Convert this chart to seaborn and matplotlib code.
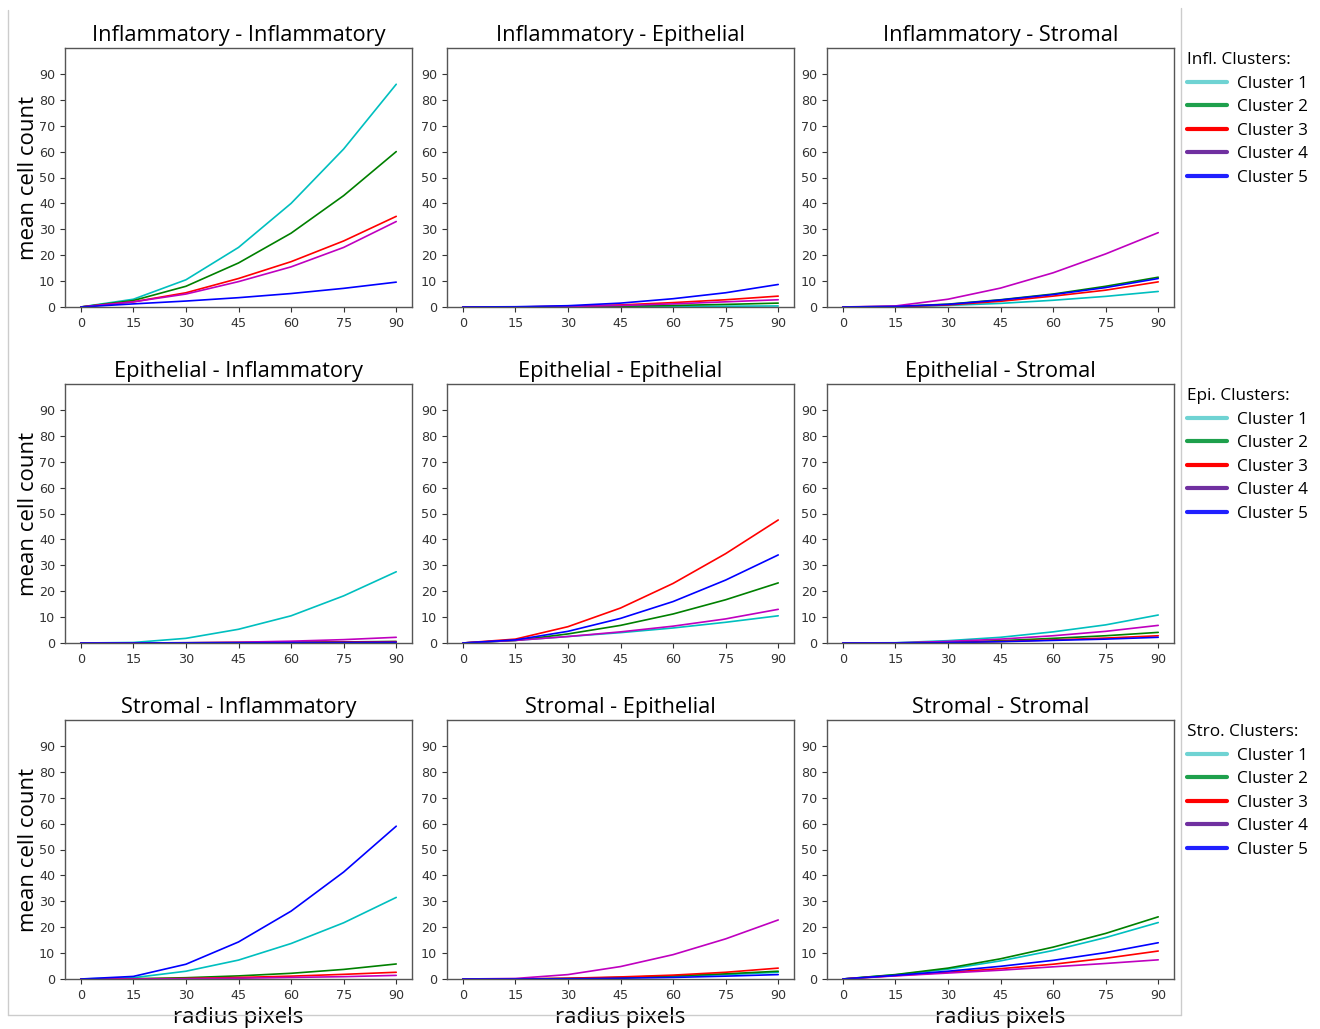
import numpy as np
import pandas as pd
import matplotlib
matplotlib.use("Agg")
import matplotlib.pyplot as plt
from matplotlib.lines import Line2D
import seaborn as sns

radius = [0, 15, 30, 45, 60, 75, 90]
cell_types = ["Inflammatory", "Epithelial", "Stromal"]
clusters = ["Cluster 1", "Cluster 2", "Cluster 3", "Cluster 4", "Cluster 5"]
line_colors = ["c", "g", "r", "m", "b"]
legend_colors = ["#6fd3d3", "#1ea04c", "#ff0000", "#7030a0", "#2020ff"]
legend_titles = ["Infl. Clusters:", "Epi. Clusters:", "Stro. Clusters:"]

# mean cell counts per panel (row = source type, col = target type), one list per cluster
infl_infl = [
    [0, 3.0, 10.5, 23.0, 40.0, 61.0, 86.0],
    [0, 2.5, 8.0, 17.0, 28.5, 43.0, 60.0],
    [0, 2.0, 5.5, 11.0, 17.5, 25.5, 35.0],
    [0, 2.0, 5.0, 9.8, 15.5, 23.0, 33.0],
    [0, 1.2, 2.3, 3.6, 5.2, 7.2, 9.6],
]
infl_epi = [
    [0, 0, 0.05, 0.1, 0.2, 0.3, 0.4],
    [0, 0, 0.1, 0.3, 0.6, 1.0, 1.5],
    [0, 0, 0.3, 0.8, 1.7, 2.8, 4.2],
    [0, 0, 0.2, 0.6, 1.2, 2.0, 2.8],
    [0, 0.1, 0.5, 1.5, 3.2, 5.5, 8.7],
]
infl_stro = [
    [0, 0.1, 0.6, 1.4, 2.6, 4.1, 6.0],
    [0, 0.2, 1.1, 2.8, 5.0, 8.0, 11.5],
    [0, 0.1, 0.8, 2.2, 4.2, 6.5, 9.7],
    [0, 0.4, 3.0, 7.3, 13.2, 20.5, 28.7],
    [0, 0.2, 1.0, 2.7, 4.8, 7.5, 11.0],
]
epi_infl = [
    [0, 0.2, 1.8, 5.3, 10.5, 18.2, 27.5],
    [0, 0, 0.1, 0.2, 0.3, 0.4, 0.6],
    [0, 0, 0.05, 0.15, 0.25, 0.35, 0.5],
    [0, 0, 0.1, 0.3, 0.7, 1.3, 2.2],
    [0, 0, 0.03, 0.08, 0.15, 0.2, 0.3],
]
epi_epi = [
    [0, 1.0, 2.5, 4.0, 5.8, 8.0, 10.5],
    [0, 1.0, 3.5, 6.8, 11.2, 16.7, 23.2],
    [0, 1.5, 6.3, 13.5, 23.0, 34.5, 47.5],
    [0, 1.0, 2.5, 4.3, 6.5, 9.3, 13.0],
    [0, 1.2, 4.5, 9.5, 16.0, 24.3, 34.0],
]
epi_stro = [
    [0, 0.1, 0.9, 2.2, 4.3, 7.0, 10.8],
    [0, 0, 0.3, 0.9, 1.8, 2.8, 4.1],
    [0, 0, 0.2, 0.6, 1.2, 1.9, 2.8],
    [0, 0.05, 0.6, 1.5, 2.8, 4.5, 6.8],
    [0, 0, 0.15, 0.5, 1.0, 1.5, 2.2],
]
stro_infl = [
    [0, 0.5, 3.0, 7.3, 13.7, 21.7, 31.5],
    [0, 0.1, 0.5, 1.2, 2.2, 3.7, 5.8],
    [0, 0.05, 0.2, 0.6, 1.1, 1.8, 2.6],
    [0, 0, 0.1, 0.3, 0.6, 0.9, 1.4],
    [0, 1.0, 5.7, 14.3, 26.2, 41.3, 59.0],
]
stro_epi = [
    [0, 0, 0.15, 0.5, 1.0, 1.7, 2.6],
    [0, 0, 0.2, 0.6, 1.2, 2.0, 3.0],
    [0, 0, 0.3, 0.8, 1.5, 2.6, 4.2],
    [0, 0.2, 1.7, 4.8, 9.4, 15.5, 22.8],
    [0, 0, 0.1, 0.3, 0.6, 1.1, 1.7],
]
stro_stro = [
    [0, 1.6, 3.8, 7.0, 11.0, 16.0, 21.8],
    [0, 1.7, 4.2, 7.8, 12.3, 17.6, 24.0],
    [0, 1.3, 2.6, 4.0, 5.7, 8.0, 10.8],
    [0, 1.2, 2.3, 3.4, 4.7, 6.0, 7.4],
    [0, 1.4, 3.0, 4.9, 7.2, 10.2, 14.0],
]

panels = [
    [infl_infl, infl_epi, infl_stro],
    [epi_infl, epi_epi, epi_stro],
    [stro_infl, stro_epi, stro_stro],
]

sns.set_style("ticks")
plt.rcParams["font.family"] = ["DejaVu Sans"]
label_font = ["Open Sans", "DejaVu Sans"]

W, H = 1320, 1029
fig = plt.figure(figsize=(W / 100, H / 100), dpi=100)

lefts = [65, 447, 827]
tops = [48, 384, 720]
aw, ah = 347, 259

for i in range(3):
    for j in range(3):
        ax = fig.add_axes([lefts[j] / W, 1 - (tops[i] + ah) / H, aw / W, ah / H])
        rows = []
        for k, vals in enumerate(panels[i][j]):
            for r, v in zip(radius, vals):
                rows.append({"radius": r, "count": v, "cluster": clusters[k]})
        df = pd.DataFrame(rows)
        sns.lineplot(data=df, x="radius", y="count", hue="cluster",
                     palette=dict(zip(clusters, line_colors)), linewidth=1.2,
                     legend=False, ax=ax)
        ax.set_xlim(-4.5, 94.5)
        ax.set_ylim(0, 100)
        ax.set_xticks(radius)
        ax.set_yticks(range(0, 100, 10))
        ax.tick_params(labelsize=9.2, colors="#333333", length=3.5)
        for s in ax.spines.values():
            s.set_color("#555555")
            s.set_linewidth(1.0)
        ax.set_title(f"{cell_types[i]} - {cell_types[j]}", fontsize=15.7,
                     family=label_font, color="black", pad=5)
        ax.set_xlabel("radius pixels" if i == 2 else "", fontsize=16,
                      family=label_font, color="black", labelpad=4)
        ax.set_ylabel("mean cell count" if j == 0 else "", fontsize=16,
                      family=label_font, color="black", labelpad=0)

# legends on the right, one per row
for i in range(3):
    handles = [Line2D([], [], color=c, lw=3) for c in legend_colors]
    leg = fig.legend(handles, clusters, title=legend_titles[i],
                     loc="upper left",
                     bbox_to_anchor=(1172 / W, 1 - (tops[i] - 11) / H),
                     frameon=False,
                     handlelength=2.3, handletextpad=0.6, labelspacing=0.44,
                     alignment="left", prop={"family": label_font, "size": 12.3},
                     title_fontproperties={"family": label_font, "size": 12.3})
    leg.get_title().set_color("black")
    for t in leg.get_texts():
        t.set_color("black")

# thin grey frame lines of the original composite
frame = "#cccccc"
fig.add_artist(Line2D([8 / W, 8 / W], [1 - 10 / H, 1 - 1015 / H], color=frame, lw=1))
fig.add_artist(Line2D([8 / W, 1181 / W], [1 - 1015 / H, 1 - 1015 / H], color=frame, lw=1))
fig.add_artist(Line2D([1181 / W, 1181 / W], [1 - 8 / H, 1 - 1015 / H], color=frame, lw=1))

fig.savefig("out.png", dpi=100)
